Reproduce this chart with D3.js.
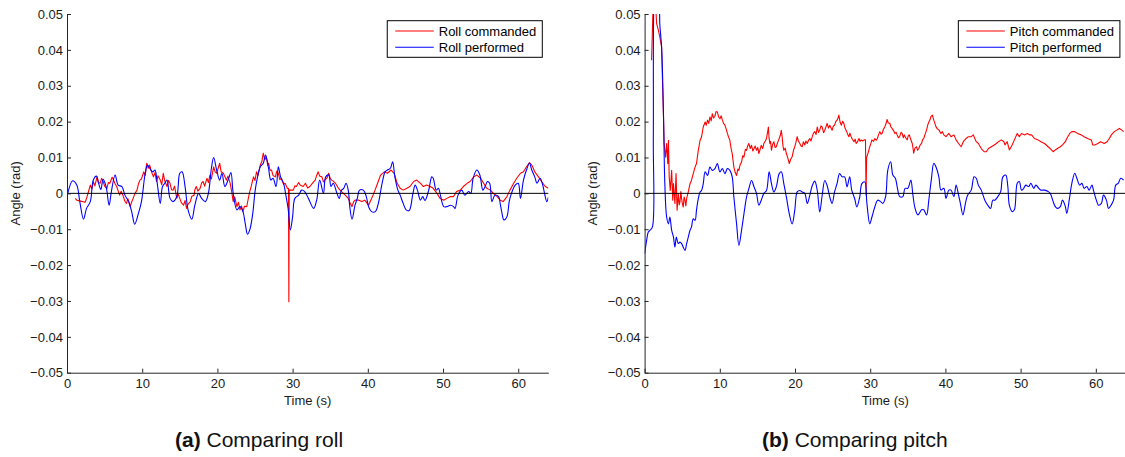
<!DOCTYPE html>
<html>
<head>
<meta charset="utf-8">
<script src="https://cdn.jsdelivr.net/npm/d3@7/dist/d3.min.js"></script>
<style>
  body { margin: 0; background: #fff; }
  svg { display: block; font-family: "Liberation Sans", Arial, Helvetica, sans-serif; }
</style>
</head>
<body>
<svg id="fig" width="1125" height="457"></svg>
<script>
// Axis ticks
const timeTicks = [0, 10, 20, 30, 40, 50, 60];
const angleTicks = [-0.05, -0.04, -0.03, -0.02, -0.01, 0, 0.01, 0.02, 0.03, 0.04, 0.05];

// Series: [time (s), angle (rad)]
const rollCommanded = [
  [1.1,-0.0014],[1.3,-0.0019],[1.7,-0.0021],[2.4,-0.0025],[2.6,-0.0014],[2.9,0.0008],[3.1,0.0023],[3.3,0.0012],[3.5,0.0033],[3.7,0.0021],
  [4.0,0.0046],[4.2,0.0030],[4.4,0.0028],[4.6,0.0042],[4.8,0.0033],[5.0,0.0020],[5.3,0.0014],[5.5,0.0030],[5.7,0.0028],[6.0,0.0045],
  [6.2,0.0037],[6.4,0.0026],[6.6,0.0019],[7.0,-0.0005],[7.2,0.0006],[7.5,-0.0009],[7.7,-0.0022],[7.9,-0.0028],[8.1,-0.0015],[8.4,-0.0037],
  [8.6,-0.0024],[8.8,-0.0014],[9.0,-0.0002],[9.3,0.0009],[9.5,0.0026],[9.7,0.0037],[9.9,0.0040],[10.2,0.0060],[10.4,0.0050],[10.6,0.0084],
  [10.8,0.0070],[11.0,0.0079],[11.2,0.0062],[11.5,0.0046],[11.7,0.0058],[11.9,0.0033],[12.1,0.0049],[12.4,0.0037],[12.6,0.0024],[12.8,0.0056],
  [13.0,0.0035],[13.3,0.0019],[13.5,0.0036],[13.7,0.0028],[13.9,0.0010],[14.1,0.0009],[14.3,0.0020],[14.6,-0.0014],[14.8,-0.0003],[15.0,-0.0014],
  [15.2,-0.0026],[15.5,-0.0033],[15.7,-0.0020],[15.9,-0.0042],[16.1,-0.0030],[16.4,-0.0023],[16.6,-0.0008],[16.9,-0.0005],[17.0,0.0010],[17.2,0.0019],
  [17.4,0.0006],[17.7,0.0014],[17.9,0.0029],[18.1,0.0033],[18.3,0.0020],[18.6,0.0042],[18.8,0.0030],[19.0,0.0051],[19.2,0.0040],[19.5,0.0074],
  [19.7,0.0060],[19.9,0.0056],[20.1,0.0070],[20.3,0.0084],[20.5,0.0060],[20.8,0.0056],[21.0,0.0046],[21.2,0.0037],[21.4,0.0048],[21.7,0.0028],
  [21.9,0.0005],[22.1,-0.0023],[22.3,-0.0010],[22.6,-0.0037],[22.8,-0.0025],[23.0,-0.0046],[23.2,-0.0035],[23.4,-0.0051],[23.6,-0.0036],[23.9,-0.0037],
  [24.1,-0.0015],[24.3,0.0005],[24.5,0.0020],[24.8,0.0046],[25.0,0.0036],[25.2,0.0060],[25.4,0.0050],[25.7,0.0079],[25.9,0.0088],[26.1,0.0112],
  [26.3,0.0094],[26.5,0.0102],[26.7,0.0078],[26.8,0.0084],[27.0,0.0064],[27.2,0.0065],[27.4,0.0050],[27.7,0.0046],[27.9,0.0062],[28.1,0.0056],
  [28.3,0.0038],[28.5,0.0042],[28.8,0.0025],[29.0,0.0028],[29.3,0.0014],[29.45,0.0014],[29.5,-0.0302],[29.55,0.0010],[29.7,0.0009],[30.1,0.0009],
  [30.3,0.0021],[30.5,0.0019],[30.8,0.0030],[31.0,0.0023],[31.4,0.0019],[31.7,0.0028],[32.0,0.0015],[32.3,0.0019],[32.7,0.0030],[33.0,0.0037],
  [33.2,0.0050],[33.4,0.0060],[33.6,0.0048],[33.9,0.0046],[34.1,0.0032],[34.3,0.0037],[34.6,0.0044],[34.8,0.0056],[35.0,0.0042],[35.2,0.0037],
  [35.4,0.0034],[35.7,0.0028],[36.1,0.0014],[36.5,0.0005],[37.0,-0.0005],[37.4,-0.0014],[37.6,-0.0025],[37.9,-0.0037],[38.1,-0.0024],[38.3,-0.0019],
  [38.8,-0.0019],[39.2,-0.0023],[39.6,-0.0019],[40.1,-0.0033],[40.4,-0.0019],[40.8,0],[41.3,0.0028],[41.7,0.0051],[42.2,0.0060],[42.6,0.0056],
  [43.1,0.0065],[43.5,0.0056],[43.9,0.0028],[44.3,0.0014],[44.7,0.0009],[45.2,0.0014],[45.6,0.0019],[46.1,0.0033],[46.5,0.0037],[47.0,0.0028],
  [47.4,0.0019],[47.8,0.0023],[48.3,0.0019],[48.7,0.0014],[49.2,0],[49.6,-0.0014],[50.1,-0.0019],[50.5,-0.0014],[51.0,-0.0009],[51.4,-0.0009],
  [51.8,0.0005],[52.3,0.0009],[52.7,0.0019],[53.2,0.0028],[53.6,0.0033],[54.1,0.0046],[54.5,0.0051],[55.0,0.0042],[55.4,0.0028],[55.8,0.0014],
  [56.3,0.0009],[56.7,0],[57.2,-0.0009],[57.6,-0.0019],[58.0,-0.0023],[58.5,-0.0009],[58.9,0.0009],[59.4,0.0028],[59.8,0.0042],[60.3,0.0056],
  [60.7,0.0060],[61.1,0.0074],[61.5,0.0086],[61.8,0.0079],[62.2,0.0060],[62.7,0.0046],[63.1,0.0033],[63.6,0.0019],[64.0,0.0014]
];

const rollPerformed = [
  [0,-0.0009],[0.75,0.0035],[1.3,0.0023],[1.7,-0.0023],[2.2,-0.0072],[2.6,-0.0042],[3.1,-0.0023],[3.5,0.0037],[3.9,0.0048],[4.2,0.0028],
  [4.5,0.0011],[4.8,0.0039],[5.2,0.0019],[5.6,-0.0033],[5.9,0.0005],[6.4,0.0051],[6.8,0.0023],[7.3,0.0019],[7.7,-0.0005],[8.2,-0.0023],
  [8.6,-0.0051],[9.0,-0.0086],[9.5,-0.0056],[9.9,-0.0023],[10.4,0.0056],[10.7,0.0079],[11.0,0.0070],[11.4,0.0060],[11.7,0.0065],[12.0,0.0028],
  [12.4,-0.0028],[12.7,0.0019],[13.0,0.0028],[13.3,0.0037],[13.7,-0.0014],[14.1,-0.0023],[14.6,-0.0009],[15.0,0.0056],[15.3,0.0060],[15.7,0.0019],
  [16.1,-0.0046],[16.6,-0.0072],[17.0,-0.0033],[17.5,0],[17.9,-0.0014],[18.4,-0.0023],[18.8,0],[19.2,0.0070],[19.5,0.0100],[19.9,0.0065],
  [20.3,0.0037],[20.6,0.0056],[21.0,0.0019],[21.5,0.0042],[21.8,0.0058],[22.1,0],[22.6,-0.0046],[23.0,-0.0037],[23.4,-0.0051],[23.7,-0.0084],
  [24.0,-0.0114],[24.3,-0.0102],[24.7,-0.0056],[25.0,0.0005],[25.3,0.0042],[25.7,0.0074],[26.1,0.0084],[26.4,0.0107],[26.8,0.0070],[27.1,0.0037],
  [27.4,0.0042],[27.8,0.0019],[28.1,0.0074],[28.4,0.0046],[28.8,0.0028],[29.1,-0.0005],[29.4,-0.0042],[29.7,-0.0102],[30.0,-0.0065],[30.3,-0.0014],
  [30.8,-0.0005],[31.2,0.0009],[31.6,0.0005],[32.1,-0.0014],[32.8,-0.0042],[33.2,-0.0019],[33.6,0.0037],[34.1,0],[34.4,0.0046],[34.8,0.0051],
  [35.1,0.0019],[35.4,0.0028],[35.9,0],[36.2,-0.0014],[36.5,0.0009],[36.8,0.0014],[37.1,0.0028],[37.4,0.0009],[37.6,-0.0037],[37.9,-0.0072],
  [38.3,-0.0033],[38.6,-0.0014],[38.9,0.0009],[39.4,0.0009],[39.8,-0.0009],[40.1,-0.0037],[40.5,-0.0051],[41.0,-0.0051],[41.4,-0.0028],[41.9,0.0028],
  [42.3,0.0060],[42.6,0.0065],[43.0,0.0070],[43.3,0.0088],[43.6,0.0046],[44.0,0.0009],[44.3,-0.0005],[44.7,-0.0028],[45.1,-0.0046],[45.5,-0.0048],
  [46.0,0],[46.3,0.0023],[46.6,0.0009],[47.0,-0.0019],[47.3,-0.0009],[47.6,-0.0020],[48.1,0.0009],[48.5,0.0046],[48.7,0.0042],[49.1,0.0009],
  [49.4,0.0014],[49.6,0],[50.1,-0.0037],[50.5,-0.0037],[51.0,-0.0033],[51.4,-0.0037],[51.6,-0.0042],[52.0,-0.0005],[52.5,0.0009],[52.9,-0.0005],
  [53.4,0.0005],[53.7,0],[54.0,0.0042],[54.5,0.0065],[54.9,0.0051],[55.3,0.0009],[55.6,0.0019],[55.9,0.0033],[56.2,0.0028],[56.5,-0.0023],
  [56.9,-0.0005],[57.4,-0.0009],[57.6,-0.0028],[57.8,-0.0051],[58.1,-0.0074],[58.5,-0.0065],[58.8,-0.0023],[59.1,0],[59.6,0.0023],[60.0,0.0028],
  [60.3,-0.0014],[60.7,0.0037],[61.1,0.0065],[61.5,0.0084],[61.8,0.0065],[62.2,0.0046],[62.5,0.0028],[62.9,0.0042],[63.2,0.0028],[63.5,0],
  [63.8,-0.0023],[64.0,-0.0011]
];

const pitchCommanded = [
  [0.93,0.0371],[1.16,0.0550],[1.45,0.0530],[1.6,0.0473],[1.83,0.0455],[2.02,0.0436],[2.26,0.0408],[2.36,0.0325],[2.5,0.0222],[2.6,0.0139],
  [2.79,0.0101],[2.93,0.0139],[3.08,0.0083],[3.17,0.0148],[3.27,0.0046],[3.41,0.0008],[3.6,0.0064],[3.74,-0.0019],[3.84,0.0027],[4.03,-0.0028],
  [4.18,0.0055],[4.32,-0.0047],[4.48,-0.0001],[4.6,-0.0032],[4.7,-0.0024],[4.82,0.0005],[4.92,-0.0015],[5.03,-0.0030],[5.14,-0.0038],[5.25,-0.0010],
  [5.37,-0.0019],[5.48,-0.0035],[5.59,-0.0015],[5.7,-0.0005],[5.81,0.0004],[6.04,0.0027],[6.23,0.0036],[6.47,0.0055],[6.71,0.0073],[6.9,0.0083],
  [7.14,0.0120],[7.38,0.0148],[7.57,0.0157],[7.8,0.0185],[8.05,0.0199],[8.2,0.0190],[8.37,0.0204],[8.53,0.0195],[8.69,0.0213],[8.85,0.0202],
  [9.0,0.0222],[9.18,0.0210],[9.35,0.0215],[9.5,0.0228],[9.67,0.0227],[9.85,0.0213],[10.02,0.0208],[10.18,0.0216],[10.34,0.0204],[10.5,0.0195],
  [10.68,0.0190],[10.85,0.0179],[11.01,0.0167],[11.18,0.0156],[11.34,0.0148],[11.5,0.0125],[11.65,0.0111],[11.87,0.0073],[12.05,0.0058],[12.23,0.0050],
  [12.4,0.0068],[12.54,0.0064],[12.7,0.0080],[12.89,0.0087],[13.05,0.0105],[13.21,0.0101],[13.4,0.0123],[13.56,0.0120],[13.7,0.0132],[13.86,0.0139],
  [14.05,0.0125],[14.22,0.0134],[14.4,0.0118],[14.55,0.0125],[14.7,0.0132],[14.88,0.0120],[15.05,0.0128],[15.19,0.0111],[15.35,0.0122],[15.51,0.0134],
  [15.7,0.0125],[15.86,0.0139],[16.05,0.0146],[16.21,0.0153],[16.35,0.0170],[16.46,0.0185],[16.55,0.0155],[16.65,0.0139],[16.75,0.0145],[16.87,0.0120],
  [17.02,0.0136],[17.19,0.0144],[17.35,0.0128],[17.51,0.0130],[17.7,0.0142],[17.9,0.0153],[18.05,0.0162],[18.18,0.0176],[18.3,0.0155],[18.4,0.0132],
  [18.51,0.0120],[18.7,0.0126],[18.85,0.0111],[19.05,0.0098],[19.24,0.0083],[19.42,0.0095],[19.62,0.0102],[19.8,0.0120],[19.97,0.0130],[20.12,0.0142],
  [20.29,0.0158],[20.45,0.0146],[20.64,0.0139],[20.8,0.0132],[20.96,0.0130],[21.12,0.0144],[21.3,0.0135],[21.45,0.0146],[21.63,0.0139],[21.8,0.0148],
  [21.96,0.0153],[22.12,0.0146],[22.3,0.0158],[22.45,0.0168],[22.63,0.0172],[22.8,0.0164],[22.96,0.0185],[23.12,0.0170],[23.29,0.0176],[23.45,0.0188],
  [23.61,0.0185],[23.8,0.0169],[23.96,0.0176],[24.12,0.0186],[24.27,0.0195],[24.45,0.0182],[24.62,0.0190],[24.78,0.0183],[24.93,0.0176],[25.1,0.0188],
  [25.26,0.0190],[25.42,0.0200],[25.59,0.0204],[25.72,0.0210],[25.83,0.0218],[26.0,0.0198],[26.17,0.0190],[26.33,0.0201],[26.5,0.0195],[26.65,0.0182],
  [26.79,0.0176],[27.0,0.0165],[27.17,0.0158],[27.3,0.0168],[27.46,0.0158],[27.65,0.0150],[27.84,0.0144],[28.0,0.0151],[28.13,0.0139],[28.3,0.0143],
  [28.51,0.0153],[28.65,0.0145],[28.8,0.0149],[29.0,0.0146],[29.18,0.0149],[29.37,0.0149],[29.45,-0.0005],[29.52,0.0100],[29.56,0.0102],[29.75,0.0115],
  [29.94,0.0130],[30.1,0.0140],[30.23,0.0149],[30.45,0.0145],[30.61,0.0153],[30.8,0.0148],[30.95,0.0153],[31.1,0.0163],[31.28,0.0172],[31.45,0.0165],
  [31.57,0.0167],[31.75,0.0178],[31.95,0.0186],[32.1,0.0194],[32.24,0.0206],[32.4,0.0196],[32.62,0.0195],[32.75,0.0185],[32.91,0.0181],[33.1,0.0175],
  [33.29,0.0167],[33.45,0.0170],[33.58,0.0163],[33.75,0.0155],[33.91,0.0158],[34.1,0.0170],[34.25,0.0167],[34.4,0.0155],[34.53,0.0163],[34.72,0.0155],
  [34.92,0.0149],[35.05,0.0160],[35.2,0.0163],[35.4,0.0150],[35.59,0.0139],[35.7,0.0125],[35.78,0.0112],[35.95,0.0126],[36.16,0.0130],[36.3,0.0120],
  [36.45,0.0125],[36.65,0.0135],[36.83,0.0139],[36.97,0.0150],[37.12,0.0153],[37.3,0.0165],[37.5,0.0177],[37.65,0.0190],[37.79,0.0199],[37.95,0.0205],
  [38.07,0.0214],[38.26,0.0218],[38.46,0.0204],[38.6,0.0195],[38.74,0.0186],[38.9,0.0180],[39.13,0.0177],[39.41,0.0167],[39.6,0.0172],[39.79,0.0163],
  [40.08,0.0158],[40.46,0.0167],[40.75,0.0158],[41.13,0.0163],[41.42,0.0149],[41.75,0.0139],[42.09,0.0130],[42.38,0.0144],[42.76,0.0153],[43.05,0.0158],
  [43.43,0.0158],[43.71,0.0163],[44.1,0.0144],[44.38,0.0139],[44.77,0.0125],[45.15,0.0116],[45.44,0.0116],[45.72,0.0125],[46.11,0.0130],[46.49,0.0135],
  [46.77,0.0139],[47.06,0.0144],[47.44,0.0149],[47.78,0.0144],[47.92,0.0135],[48.21,0.0144],[48.5,0.0121],[48.88,0.0135],[49.17,0.0149],[49.55,0.0167],
  [49.83,0.0158],[50.12,0.0167],[50.5,0.0163],[50.89,0.0167],[51.17,0.0163],[51.46,0.0163],[51.84,0.0153],[52.32,0.0149],[52.7,0.0144],[53.18,0.0139],
  [53.66,0.0130],[53.94,0.0125],[54.33,0.0116],[54.61,0.0121],[54.9,0.0125],[55.28,0.0130],[55.57,0.0135],[55.95,0.0144],[56.14,0.0153],[56.53,0.0167],
  [56.81,0.0172],[57.2,0.0172],[57.58,0.0167],[58.06,0.0163],[58.44,0.0158],[58.92,0.0153],[59.4,0.0149],[59.59,0.0135],[59.87,0.0135],[60.26,0.0139],
  [60.64,0.0144],[61.12,0.0139],[61.5,0.0144],[61.79,0.0153],[62.07,0.0163],[62.46,0.0172],[62.84,0.0177],[63.13,0.0181],[63.41,0.0177],[63.7,0.0172]
];

const pitchPerformed = [
  [0,-0.0168],[0.27,-0.0131],[0.49,-0.0108],[0.71,-0.0103],[1.03,-0.0094],[1.16,0.0157],[1.29,0.0560],[1.55,0.0600],[1.83,0.0600],[2.02,0.0473],
  [2.26,0.0408],[2.5,0.0232],[2.69,0.0027],[2.93,-0.0066],[3.17,-0.0085],[3.36,-0.0066],[3.6,-0.0103],[3.84,-0.0122],[4.03,-0.0150],[4.22,-0.0122],
  [4.48,-0.0140],[4.7,-0.0136],[4.92,-0.0140],[5.14,-0.0150],[5.37,-0.0159],[5.59,-0.0140],[5.81,-0.0122],[6.04,-0.0103],[6.23,-0.0094],[6.47,-0.0071],
  [6.71,-0.0075],[6.9,-0.0047],[7.14,-0.0015],[7.38,0.0004],[7.57,0.0008],[7.8,0.0027],[8.05,0.0060],[8.37,0.0050],[8.69,0.0073],[9.0,0.0064],
  [9.35,0.0069],[9.67,0.0083],[10.02,0.0060],[10.34,0.0069],[10.68,0.0055],[11.01,0.0069],[11.34,0.0064],[11.65,0.0046],[11.87,-0.0010],[12.23,-0.0085],
  [12.54,-0.0145],[12.89,-0.0103],[13.21,-0.0057],[13.56,-0.0010],[13.86,0.0013],[14.22,0.0036],[14.55,0.0018],[14.88,0],[15.19,-0.0033],[15.51,-0.0019],
  [15.86,0],[16.21,0.0008],[16.56,0.0060],[16.87,0.0027],[17.19,0.0004],[17.51,0.0018],[17.9,0.0055],[18.18,0.0060],[18.51,0.0027],[18.85,-0.0010],
  [19.24,-0.0057],[19.62,-0.0085],[19.97,-0.0047],[20.29,0.0004],[20.64,0.0008],[20.96,0.0004],[21.3,0],[21.63,-0.0028],[21.96,-0.0006],[22.3,0.0022],
  [22.63,0.0034],[22.96,0.0008],[23.29,-0.0052],[23.61,-0.0006],[23.96,0.0036],[24.27,0.0022],[24.62,-0.0010],[24.93,-0.0028],[25.26,0.0004],[25.59,0.0027],
  [25.93,0.0055],[26.26,0.0046],[26.6,0.0046],[26.92,0.0018],[27.27,0.0046],[27.55,0.0008],[27.94,-0.0015],[28.22,-0.0038],[28.61,-0.0010],[28.89,0.0027],
  [29.28,0.0032],[29.56,-0.0028],[29.94,-0.0085],[30.23,-0.0066],[30.61,-0.0038],[31.0,-0.0019],[31.38,-0.0023],[31.67,-0.0028],[32.05,-0.0009],[32.34,0.0065],
  [32.72,0.0088],[33.01,0.0051],[33.34,0.0042],[33.67,0.0009],[33.91,-0.0009],[34.34,-0.0009],[34.63,0.0014],[35.01,0.0014],[35.4,0.0037],[35.68,-0.0005],
  [35.97,-0.0042],[36.35,-0.0060],[36.83,-0.0046],[37.12,-0.0046],[37.5,-0.0060],[37.79,-0.0019],[38.12,0.0037],[38.46,0.0084],[38.74,0.0074],[39.13,0.0046],
  [39.41,0.0009],[39.79,0.0014],[40.08,-0.0014],[40.46,0.0009],[40.75,0.0009],[41.13,-0.0009],[41.42,0.0023],[41.75,-0.0005],[41.99,-0.0028],[42.33,-0.0060],
  [42.66,-0.0028],[42.95,-0.0005],[43.43,0.0009],[43.81,0.0046],[44.1,0.0042],[44.38,0.0023],[44.77,0.0009],[45.24,-0.0019],[45.63,-0.0033],[46.01,-0.0042],
  [46.3,-0.0019],[46.58,-0.0019],[46.97,-0.0009],[47.35,0.0005],[47.64,0.0046],[48.02,0.0051],[48.3,0.0019],[48.5,-0.0033],[48.88,-0.0051],[49.17,-0.0046],
  [49.55,0.0028],[49.83,0.0033],[50.12,0.0009],[50.41,0.0014],[50.7,0.0023],[51.08,0.0019],[51.36,0.0028],[51.75,0.0014],[52.03,0.0023],[52.42,0.0014],
  [52.7,0.0009],[53.18,0.0009],[53.66,0.0005],[53.94,0],[54.33,-0.0023],[54.61,-0.0037],[54.9,-0.0042],[55.28,-0.0037],[55.57,-0.0019],[55.95,-0.0037],
  [56.14,-0.0056],[56.53,-0.0009],[56.81,0.0028],[57.2,0.0056],[57.48,0.0042],[57.87,0.0023],[58.15,0.0028],[58.44,0.0014],[58.82,0.0019],[59.11,0.0009],
  [59.49,0.0023],[59.68,0.0009],[60.07,-0.0019],[60.35,-0.0033],[60.74,-0.0028],[61.02,-0.0005],[61.41,-0.0019],[61.69,-0.0042],[62.03,-0.0033],[62.36,-0.0019],
  [62.65,0.0023],[62.98,0.0028],[63.32,0.0042],[63.7,0.0037]
];

const panels = [
  { left: 67,    commanded: rollCommanded,  performed: rollPerformed,
    legend: ["Roll commanded", "Roll performed"],   tag: "(a)", caption: " Comparing roll",  captionX: 175 },
  { left: 644.6, commanded: pitchCommanded, performed: pitchPerformed,
    legend: ["Pitch commanded", "Pitch performed"], tag: "(b)", caption: " Comparing pitch", captionX: 762 }
];

const plotTop = 14, plotBottom = 372.7, plotWidth = 481.3;
const axisColor = "#262626";
const fontSize = 13;
const svg = d3.select("#fig");
const fmt = d => d === 0 ? "0" : d3.format(".2f")(d);

panels.forEach((p, i) => {
  const x = d3.scaleLinear().domain([0, 64]).range([p.left, p.left + plotWidth]);
  const y = d3.scaleLinear().domain([-0.05, 0.05]).range([plotBottom, plotTop]);
  const g = svg.append("g");

  const clipId = "plot-clip-" + i;
  svg.append("clipPath").attr("id", clipId)
    .append("rect").attr("x", p.left).attr("y", plotTop)
    .attr("width", plotWidth).attr("height", plotBottom - plotTop);

  const lineRaw = d3.line().x(d => x(d[0])).y(d => y(d[1]));
  const lineSmooth = d3.line().x(d => x(d[0])).y(d => y(d[1])).curve(d3.curveCatmullRom.alpha(0.5));

  const data = g.append("g").attr("clip-path", `url(#${clipId})`);
  data.append("path").datum(p.commanded).attr("d", lineRaw)
    .attr("fill", "none").attr("stroke", "#ff0000").attr("stroke-width", 1.1).attr("stroke-linejoin", "round");
  data.append("path").datum(p.performed).attr("d", lineSmooth)
    .attr("fill", "none").attr("stroke", "#0000ff").attr("stroke-width", 1.1).attr("stroke-linejoin", "round");

  // zero reference line
  g.append("line").attr("x1", x(0)).attr("x2", x(64)).attr("y1", y(0)).attr("y2", y(0))
    .attr("stroke", "#000").attr("stroke-width", 1);

  // axes (ticks point inward)
  const xAxis = d3.axisBottom(x).tickValues(timeTicks).tickSizeInner(-4).tickSizeOuter(0).tickPadding(6);
  const yAxis = d3.axisLeft(y).tickValues(angleTicks).tickFormat(fmt).tickSizeInner(-4).tickSizeOuter(0).tickPadding(4);

  const gx = g.append("g").attr("transform", `translate(0,${plotBottom})`).call(xAxis);
  const gy = g.append("g").attr("transform", `translate(${p.left},0)`).call(yAxis);
  [gx, gy].forEach(a => {
    a.attr("font-size", fontSize).attr("font-family", null);
    a.select(".domain").attr("stroke", axisColor);
    a.selectAll(".tick line").attr("stroke", axisColor);
    a.selectAll(".tick text").attr("fill", "#1a1a1a");
  });

  // axis titles
  g.append("text").attr("x", p.left + plotWidth / 2).attr("y", 405)
    .attr("text-anchor", "middle").attr("font-size", fontSize).attr("fill", "#1a1a1a").text("Time (s)");
  g.append("text").attr("transform", `translate(${p.left - 47.5},${(plotTop + plotBottom) / 2}) rotate(-90)`)
    .attr("text-anchor", "middle").attr("font-size", fontSize).attr("fill", "#1a1a1a").text("Angle (rad)");

  // legend
  const lg = g.append("g");
  const box = lg.append("rect").attr("fill", "#fff").attr("stroke", "#000").attr("stroke-width", 1);
  const colors = ["#ff0000", "#0000ff"];
  const rowY = [31, 47.3];
  const texts = p.legend.map((label, k) => lg.append("text")
    .attr("y", rowY[k]).attr("dy", "0.35em").attr("font-size", fontSize).attr("fill", "#000").text(label));
  const textW = d3.max(texts, t => t.node().getComputedTextLength());
  const boxRight = p.left + plotWidth - 6;
  const boxW = 8 + 38.5 + 5 + textW + 6;
  const boxLeft = boxRight - boxW;
  box.attr("x", boxLeft).attr("y", 20.7).attr("width", boxW).attr("height", 36.6);
  p.legend.forEach((label, k) => {
    lg.append("line").attr("x1", boxLeft + 8).attr("x2", boxLeft + 46.5)
      .attr("y1", rowY[k]).attr("y2", rowY[k]).attr("stroke", colors[k]).attr("stroke-width", 1.1);
    texts[k].attr("x", boxLeft + 51.5);
  });

  // sub-figure caption
  const cap = g.append("text").attr("x", p.captionX).attr("y", 447).attr("font-size", 21).attr("fill", "#111");
  cap.append("tspan").attr("font-weight", "bold").text(p.tag);
  cap.append("tspan").text(p.caption);
});
</script>
</body>
</html>
